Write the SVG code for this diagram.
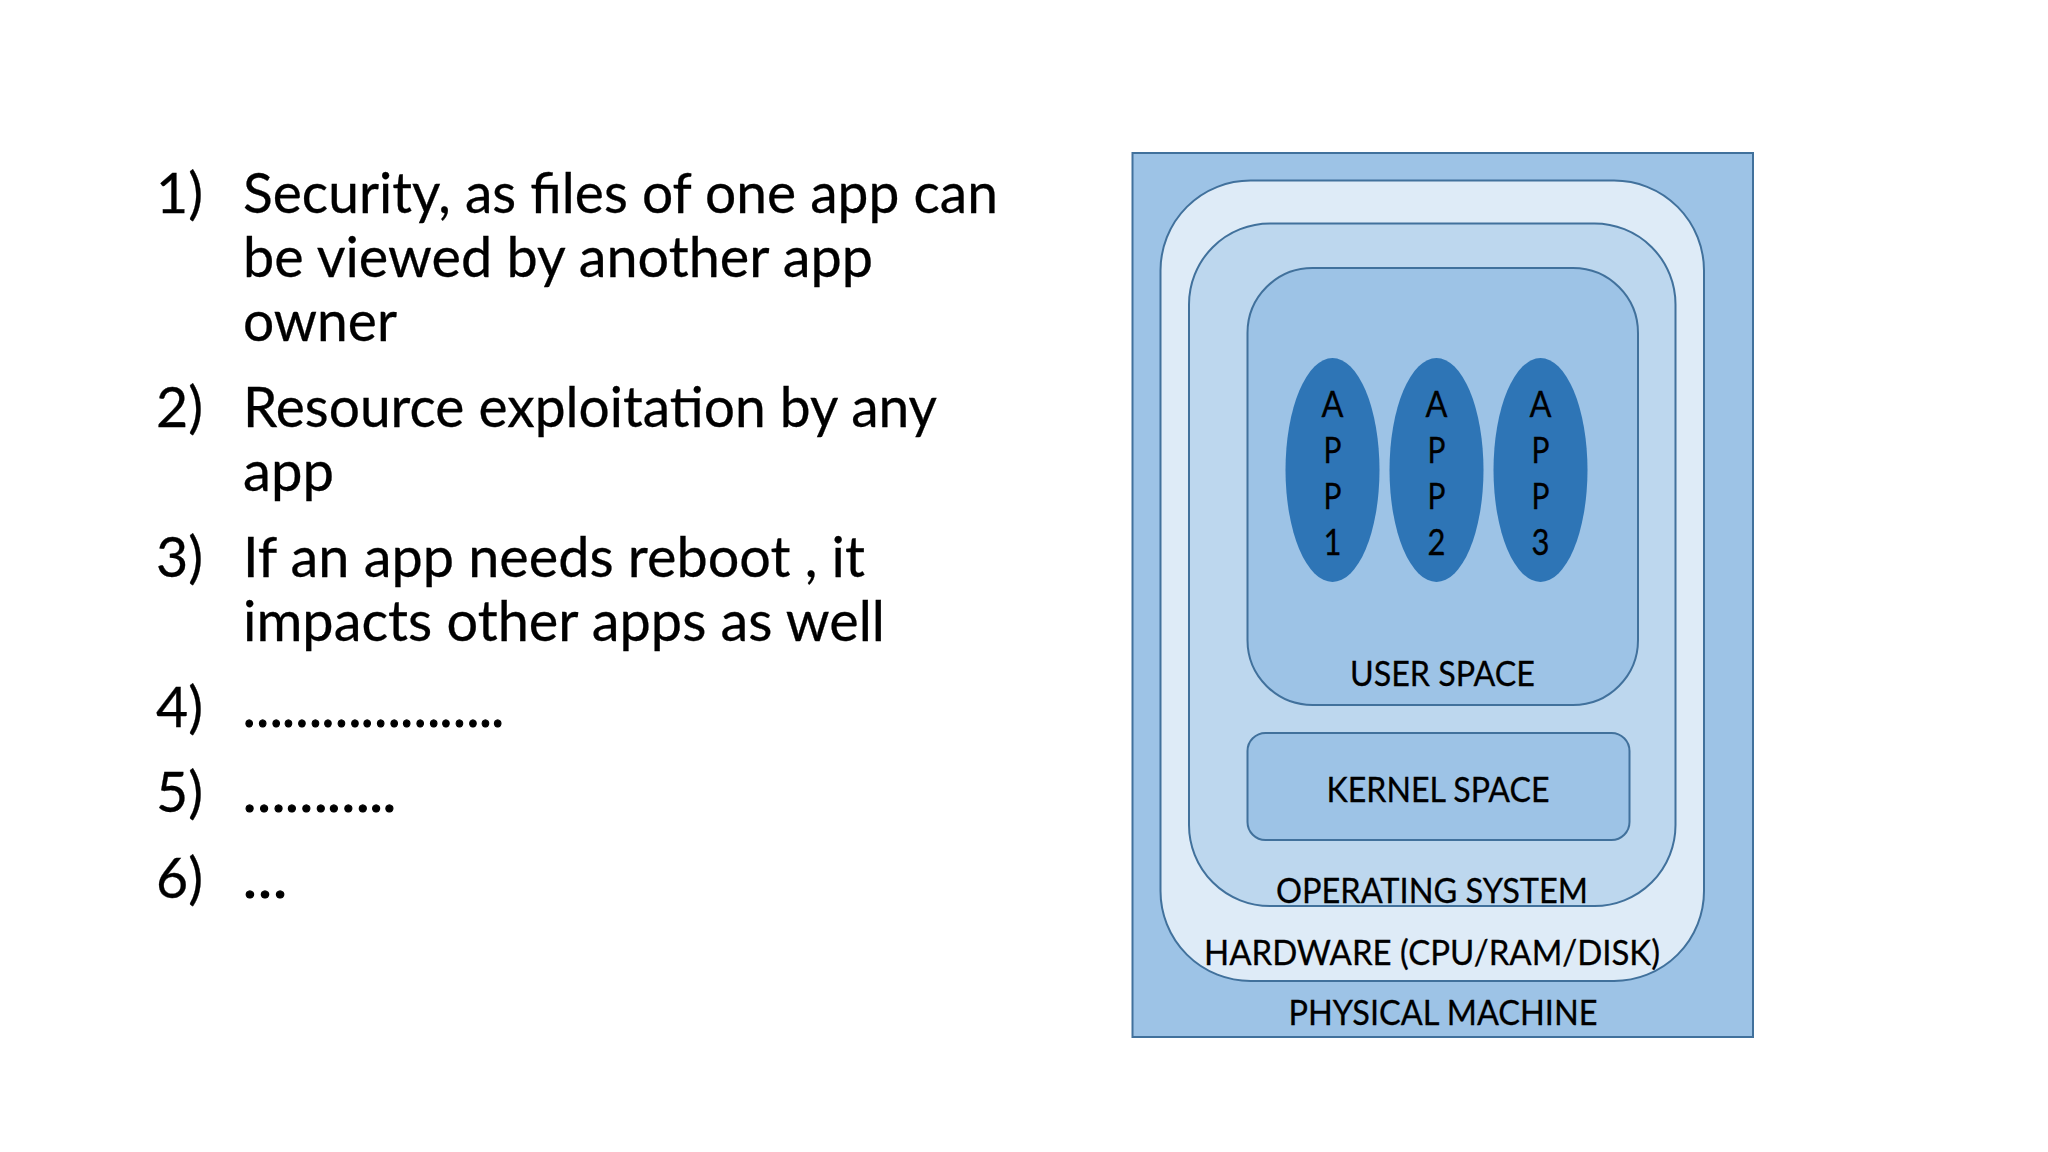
<svg xmlns="http://www.w3.org/2000/svg" width="2048" height="1152" viewBox="0 0 2048 1152">
<style>
.b{stroke:#41719C;stroke-width:2}
.l{fill:#9DC3E6}
text{font-family:"Lato","Carlito","Liberation Sans",sans-serif;fill:#000;stroke:#000;stroke-width:.3}
.m{font-size:57px}
.d{stroke-width:1.2}
.s{font-size:34px;text-anchor:middle}
.a{font-size:36px;text-anchor:middle}
.e{fill:#2E75B6}
</style>
<rect width="2048" height="1152" fill="#fff"/>
<g id="list">
<text class="m" x="156" y="213" textLength="47" lengthAdjust="spacingAndGlyphs">1)</text>
<text class="m" x="243" y="213" textLength="755" lengthAdjust="spacingAndGlyphs">Security, as files of one app can</text>
<text class="m" x="243" y="277" textLength="630" lengthAdjust="spacingAndGlyphs">be viewed by another app</text>
<text class="m" x="243" y="341" textLength="154" lengthAdjust="spacingAndGlyphs">owner</text>
<text class="m" x="156" y="427" textLength="47" lengthAdjust="spacingAndGlyphs">2)</text>
<text class="m" x="243" y="427" textLength="694" lengthAdjust="spacingAndGlyphs">Resource exploitation by any</text>
<text class="m" x="243" y="491" textLength="91" lengthAdjust="spacingAndGlyphs">app</text>
<text class="m" x="156" y="577" textLength="47" lengthAdjust="spacingAndGlyphs">3)</text>
<text class="m" x="243" y="577" textLength="622" lengthAdjust="spacingAndGlyphs">If an app needs reboot , it</text>
<text class="m" x="243" y="641" textLength="642" lengthAdjust="spacingAndGlyphs">impacts other apps as well</text>
<text class="m" x="156" y="727" textLength="47" lengthAdjust="spacingAndGlyphs">4)</text>
<text class="m d" x="243" y="727" textLength="261" lengthAdjust="spacingAndGlyphs">………………..</text>
<text class="m" x="156" y="812" textLength="47" lengthAdjust="spacingAndGlyphs">5)</text>
<text class="m d" x="243" y="812" textLength="153" lengthAdjust="spacingAndGlyphs">………..</text>
<text class="m" x="156" y="898" textLength="47" lengthAdjust="spacingAndGlyphs">6)</text>
<text class="m d" x="243" y="898" textLength="44" lengthAdjust="spacingAndGlyphs">…</text>
</g>
<g id="physical-machine">
<rect class="b l" x="1132.5" y="153" width="620.5" height="884"/>
<text class="s" x="1443" y="1025" textLength="309" lengthAdjust="spacingAndGlyphs">PHYSICAL MACHINE</text>
</g>
<g id="hardware">
<rect class="b" fill="#DEEBF7" x="1160.5" y="180.5" width="543.5" height="800.5" rx="90" ry="90"/>
<text class="s" x="1432" y="965" textLength="456" lengthAdjust="spacingAndGlyphs">HARDWARE (CPU/RAM/DISK)</text>
</g>
<g id="operating-system">
<rect class="b" fill="#BDD7EE" x="1189" y="223.5" width="486.5" height="682.5" rx="81" ry="81"/>
<text class="s" x="1432" y="902.5" textLength="312" lengthAdjust="spacingAndGlyphs">OPERATING SYSTEM</text>
</g>
<g id="user-space">
<rect class="b l" x="1247.5" y="268" width="390.5" height="437" rx="65" ry="65"/>
<text class="s" x="1442.5" y="686" textLength="185" lengthAdjust="spacingAndGlyphs">USER SPACE</text>
</g>
<g id="kernel-space">
<rect class="b l" x="1247.5" y="733" width="382" height="107" rx="18" ry="18"/>
<text class="s" x="1438" y="802" textLength="223" lengthAdjust="spacingAndGlyphs">KERNEL SPACE</text>
</g>
<g id="app1">
<ellipse class="e" cx="1332.5" cy="470" rx="47" ry="112"/>
<text class="a" x="1332.5" y="417" textLength="22" lengthAdjust="spacingAndGlyphs">A</text><text class="a" x="1332.5" y="463" textLength="18" lengthAdjust="spacingAndGlyphs">P</text><text class="a" x="1332.5" y="509" textLength="18" lengthAdjust="spacingAndGlyphs">P</text><text class="a" x="1332.5" y="555" textLength="18" lengthAdjust="spacingAndGlyphs">1</text>
</g>
<g id="app2">
<ellipse class="e" cx="1436.5" cy="470" rx="47" ry="112"/>
<text class="a" x="1436.5" y="417" textLength="22" lengthAdjust="spacingAndGlyphs">A</text><text class="a" x="1436.5" y="463" textLength="18" lengthAdjust="spacingAndGlyphs">P</text><text class="a" x="1436.5" y="509" textLength="18" lengthAdjust="spacingAndGlyphs">P</text><text class="a" x="1436.5" y="555" textLength="18" lengthAdjust="spacingAndGlyphs">2</text>
</g>
<g id="app3">
<ellipse class="e" cx="1540.5" cy="470" rx="47" ry="112"/>
<text class="a" x="1540.5" y="417" textLength="22" lengthAdjust="spacingAndGlyphs">A</text><text class="a" x="1540.5" y="463" textLength="18" lengthAdjust="spacingAndGlyphs">P</text><text class="a" x="1540.5" y="509" textLength="18" lengthAdjust="spacingAndGlyphs">P</text><text class="a" x="1540.5" y="555" textLength="18" lengthAdjust="spacingAndGlyphs">3</text>
</g>
</svg>
